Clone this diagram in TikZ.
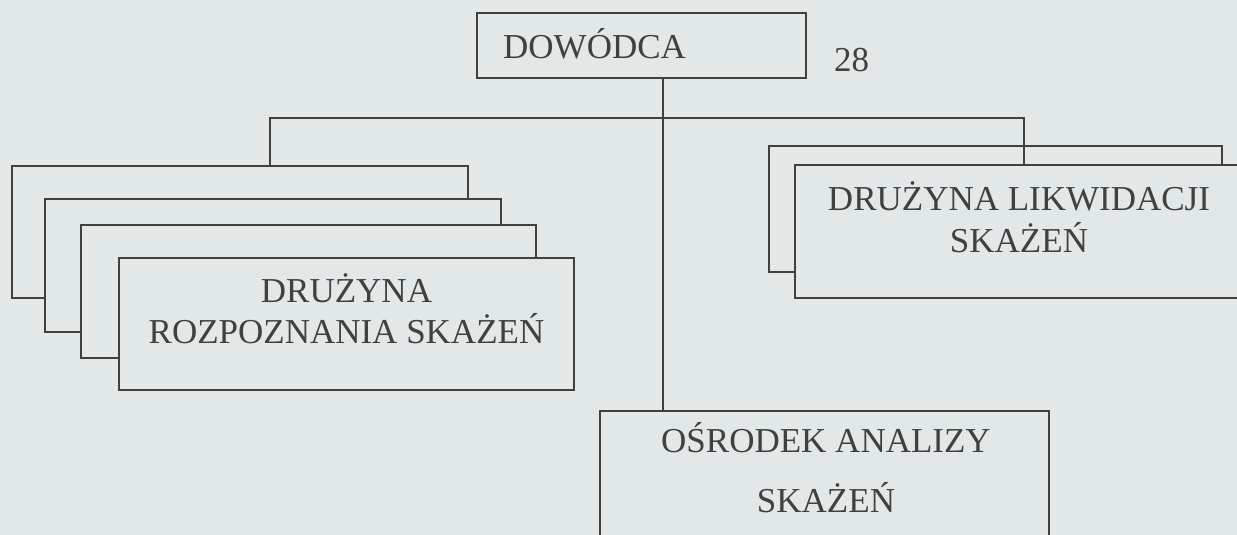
\documentclass[tikz,border=0pt]{standalone}
\usepackage{fontspec}
\setmainfont{Liberation Serif}
\usepackage{xcolor}
\definecolor{paper}{RGB}{226,231,232}
\definecolor{ink}{RGB}{64,64,64}
\tikzset{unit/.style = {rectangle, draw = ink, fill = paper, line width = 2.2pt, inner sep = 0pt}}
\tikzset{link/.style = {draw = ink, line width = 2.2pt}}
\tikzset{lbl/.style = {text = ink, font = \fontsize{35}{41}\selectfont, anchor = base, inner sep = 0pt}}

\begin{document}
\begin{tikzpicture}[x = 1pt, y = -1pt]

  \useasboundingbox (0 , 0) rectangle (1237 , 535);
  \clip (0 , 0) rectangle (1237 , 535);
  \fill [paper] (0 , 0) rectangle (1237 , 535);

  \def\barY{118}

  \node [unit, minimum width = 329, minimum height = 65] (dow) at (641.5 , 45.5) {};

  \node [unit, minimum width = 456, minimum height = 132] (rozp1) at (240 , 232) {};
  \node [unit, minimum width = 456, minimum height = 133] (rozp2) at (273 , 265.5) {};
  \node [unit, minimum width = 455, minimum height = 133] (rozp3) at (308.5 , 291.5) {};
  \node [unit, minimum width = 455, minimum height = 132] (rozp4) at (346.5 , 324) {};

  \node [unit, minimum width = 453, minimum height = 126] (likw1) at (995.5 , 209) {};

  \coordinate (barL) at (270 , \barY);
  \coordinate (hub) at (663 , \barY);
  \coordinate (barR) at (1024 , \barY);

  \node [unit, minimum width = 449, minimum height = 189] (osr) at (824.5 , 505.5) {};

  \draw [link] (rozp1.north -| barL) -- (barL) -- (barR) -- (1024 , 165);
  \draw [link] (dow.south -| hub) -- (osr.north -| hub);

  \node [unit, minimum width = 448, minimum height = 133] (likw2) at (1019 , 231.5) {};

  \node [lbl, anchor = base west] (dowtxt) at (503 , 59) {DOWÓDCA};
  \node [lbl, anchor = base west] (nr) at (834 , 72) {28};

  \node [lbl] (rozpa) at (346.5 , 302) {DRUŻYNA};
  \node [lbl] (rozpb) at (346.5 , 343) {ROZPOZNANIA SKAŻEŃ};

  \node [lbl] (likwa) at (1019 , 210) {DRUŻYNA LIKWIDACJI};
  \node [lbl] (likwb) at (1019 , 252) {SKAŻEŃ};

  \node [lbl] (osra) at (826 , 452) {OŚRODEK ANALIZY};
  \node [lbl] (osrb) at (826 , 512) {SKAŻEŃ};

\end{tikzpicture}
\end{document}
